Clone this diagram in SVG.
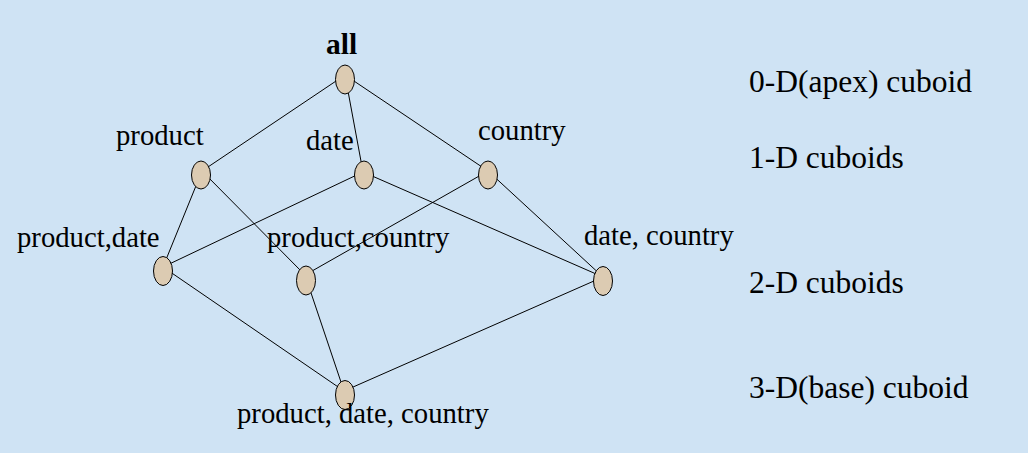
<svg xmlns="http://www.w3.org/2000/svg" width="1028" height="453" viewBox="0 0 1028 453">
<style>
.node{fill:#dccbb2;stroke:#000;stroke-width:1}
.edge{stroke:#000;stroke-width:1;fill:none}
.lbl{font-family:"Liberation Serif","Times New Roman",serif;font-size:28.7px;fill:#000}
.lvl{font-size:31.5px}
.bold{font-weight:bold;font-size:29.5px}
</style>
<rect width="1028" height="453" fill="#cfe3f4"/>
<g id="connectors">
<line class="edge" x1="345" y1="75" x2="202" y2="171"/>
<line class="edge" x1="345" y1="75" x2="363" y2="172"/>
<line class="edge" x1="345" y1="75" x2="488" y2="171"/>
<line class="edge" x1="202" y1="171" x2="163" y2="267"/>
<line class="edge" x1="202" y1="171" x2="305" y2="275"/>
<line class="edge" x1="363" y1="172" x2="163" y2="267"/>
<line class="edge" x1="363" y1="172" x2="603" y2="277"/>
<line class="edge" x1="488" y1="171" x2="305" y2="275"/>
<line class="edge" x1="488" y1="171" x2="603" y2="277"/>
<line class="edge" x1="163" y1="267" x2="344" y2="391"/>
<line class="edge" x1="305" y1="275" x2="344" y2="391"/>
<line class="edge" x1="603" y1="277" x2="344" y2="391"/>
</g>
<g id="n-all"><ellipse class="node" cx="345" cy="79.5" rx="9.5" ry="14.5"/><text class="lbl bold" x="326" y="54">all</text></g>
<g id="n-product"><ellipse class="node" cx="201" cy="175" rx="9.5" ry="14"/><text class="lbl" x="116" y="145">product</text></g>
<g id="n-date"><ellipse class="node" cx="364" cy="175" rx="9.5" ry="14"/><text class="lbl" x="306" y="150">date</text></g>
<g id="n-country"><ellipse class="node" cx="488" cy="175" rx="9.5" ry="14"/><text class="lbl" x="478" y="140">country</text></g>
<g id="n-product-date"><ellipse class="node" cx="163" cy="271" rx="9.5" ry="14.5"/><text class="lbl" x="17" y="247">product,date</text></g>
<g id="n-product-country"><ellipse class="node" cx="306" cy="280.5" rx="9.5" ry="14.5"/><text class="lbl" x="267" y="247">product,country</text></g>
<g id="n-date-country"><ellipse class="node" cx="603" cy="281" rx="9.5" ry="14.5"/><text class="lbl" x="584" y="245">date, country</text></g>
<g id="n-base"><ellipse class="node" cx="345" cy="395" rx="9.5" ry="14.5"/><text class="lbl" x="237" y="423">product, date, country</text></g>
<g id="levels">
<text class="lbl lvl" x="749" y="92">0-D(apex) cuboid</text>
<text class="lbl lvl" x="749" y="168">1-D cuboids</text>
<text class="lbl lvl" x="749" y="293">2-D cuboids</text>
<text class="lbl lvl" x="749" y="398">3-D(base) cuboid</text>
</g>
</svg>
